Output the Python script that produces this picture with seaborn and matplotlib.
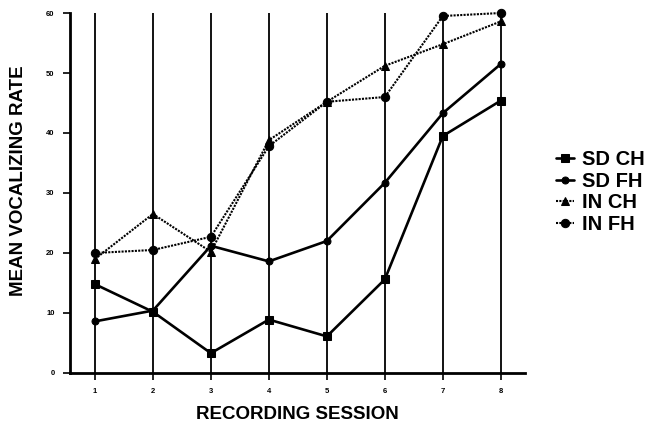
import matplotlib
matplotlib.use("Agg")
import matplotlib.pyplot as plt
import pandas as pd
import seaborn as sns

# values
sessions = [1, 2, 3, 4, 5, 6, 7, 8]
sd_ch = [14.8, 10.2, 3.3, 8.9, 6.1, 15.6, 39.5, 45.4]
sd_fh = [8.6, 10.4, 21.2, 18.6, 22.0, 31.7, 43.3, 51.5]
in_ch = [19.0, 26.5, 20.2, 38.8, 45.2, 51.2, 54.8, 58.6]
in_fh = [20.0, 20.5, 22.7, 37.8, 45.2, 46.0, 59.5, 60.0]
series_names = ["SD CH", "SD FH", "IN CH", "IN FH"]
y_ticks = [0, 10, 20, 30, 40, 50, 60]

data = pd.DataFrame({"session": sessions, "SD CH": sd_ch, "SD FH": sd_fh,
                     "IN CH": in_ch, "IN FH": in_fh})
data_long = data.melt(id_vars="session", var_name="group", value_name="rate")

sns.set_style("white")
plt.rcParams["font.family"] = ["Liberation Sans", "DejaVu Sans"]
plt.rcParams["text.color"] = "black"
plt.rcParams["axes.labelcolor"] = "black"
plt.rcParams["xtick.color"] = "black"
plt.rcParams["ytick.color"] = "black"

fig = plt.figure(figsize=(6.54, 4.25), dpi=100)
ax = fig.add_axes([0.107, 0.1224, 0.696, 0.847])

# vertical rules at each session
for s in sessions:
    ax.axvline(s, color="black", lw=1.3, zorder=1)

styles = {
    "SD CH": dict(marker="s", ms=6, ls="-", lw=1.9),
    "SD FH": dict(marker="o", ms=5, ls="-", lw=1.9),
    "IN CH": dict(marker="^", ms=6, ls=(0, (1, 0.6)), lw=1.5),
    "IN FH": dict(marker="o", ms=6, ls=(0, (1, 0.6)), lw=1.5),
}
for name in series_names:
    st = styles[name]
    sns.lineplot(data=data_long[data_long["group"] == name], x="session", y="rate",
                 color="black", marker=st["marker"], markersize=st["ms"],
                 linestyle=st["ls"], linewidth=st["lw"], markeredgecolor="black",
                 label=name, ax=ax, zorder=3, clip_on=False)

ax.set_xlim(0.57, 8.42)
ax.set_ylim(0, 60)
ax.set_xticks(sessions)
ax.set_yticks(y_ticks)
ax.tick_params(axis="both", labelsize=5.5, length=5, width=1.2, direction="out",
               bottom=True, left=True, pad=6)
for lab in ax.get_xticklabels() + ax.get_yticklabels():
    lab.set_fontweight("bold")

for side in ["top", "right"]:
    ax.spines[side].set_visible(False)
for side in ["left", "bottom"]:
    ax.spines[side].set_linewidth(2)
    ax.spines[side].set_color("black")

ax.set_xlabel("RECORDING SESSION", fontsize=13.5, fontweight="bold", labelpad=8)
ax.set_ylabel("MEAN VOCALIZING RATE", fontsize=13.5, fontweight="bold")
ax.yaxis.set_label_coords(-0.095, 0.535)

ax.legend(loc="center left", bbox_to_anchor=(0.838, 0.548), bbox_transform=fig.transFigure,
          frameon=False, handlelength=0.9, handletextpad=0.4,
          labelspacing=0.12, borderaxespad=0,
          prop={"weight": "bold", "size": 14.5})

fig.savefig("out.png", dpi=100)
